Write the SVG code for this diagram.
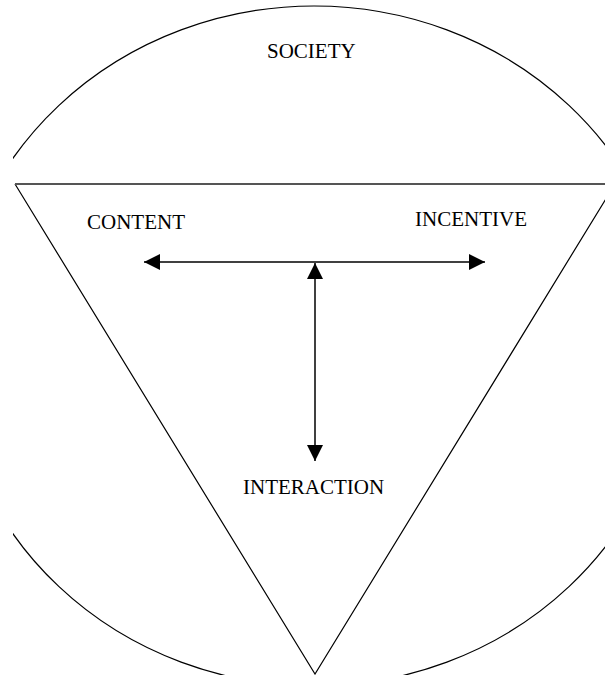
<svg xmlns="http://www.w3.org/2000/svg" width="605" height="675" viewBox="0 0 605 675">
  <style>
    .outline { fill: none; stroke: #000; stroke-width: 1.2; }
    .rim { fill: none; stroke: #555; stroke-width: 2; }
    .conn { fill: none; stroke: #000; stroke-width: 1.5; }
    .label { font-family: "Liberation Serif", "Times New Roman", serif; font-size: 21px; fill: #000; }
  </style>
  <defs>
    <clipPath id="frame">
      <rect x="13" y="0" width="592" height="675"/>
    </clipPath>
    <marker id="head" viewBox="0 0 16 16" refX="16" refY="8" markerWidth="16" markerHeight="16" markerUnits="userSpaceOnUse" orient="auto-start-reverse">
      <path d="M0,0 L16,8 L0,16 Z" fill="#000"/>
    </marker>
  </defs>
  <rect width="605" height="675" fill="#fff"/>

  <!-- Society: the surrounding ellipse -->
  <g id="society">
    <ellipse class="outline" cx="314" cy="346" rx="361" ry="340" clip-path="url(#frame)"/>
    <text class="label" x="267" y="58">SOCIETY</text>
  </g>

  <!-- Inverted triangle holding the three elements -->
  <g id="triangle">
    <polyline class="outline" points="15,184 315,674 615,184"/>
    <line class="rim" x1="15" y1="184" x2="605" y2="184"/>
  </g>

  <g id="content">
    <text class="label" x="87" y="229">CONTENT</text>
  </g>
  <g id="incentive">
    <text class="label" x="415" y="226">INCENTIVE</text>
  </g>
  <g id="interaction">
    <text class="label" x="243" y="494">INTERACTION</text>
  </g>

  <!-- Connectors -->
  <g id="connectors">
    <line class="conn" x1="144" y1="262" x2="485" y2="262" marker-start="url(#head)" marker-end="url(#head)"/>
    <line class="conn" x1="315" y1="263" x2="315" y2="461" marker-start="url(#head)" marker-end="url(#head)"/>
  </g>
</svg>
